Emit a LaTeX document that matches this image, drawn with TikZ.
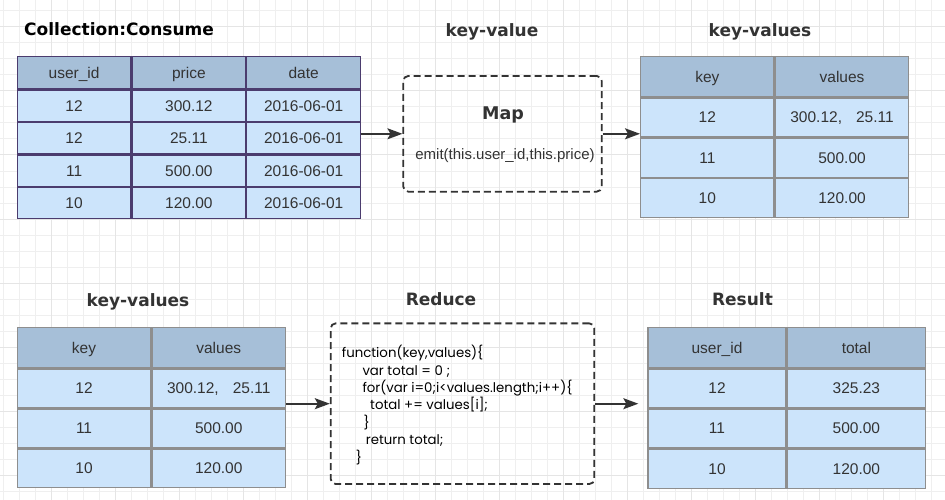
\documentclass[tikz,border=0pt]{standalone}
\usepackage{fontspec}
\setmainfont{DejaVu Sans}
\newfontfamily\cellfont{Liberation Sans}
\newfontfamily\codefont{Poppins}
\usepackage{tikz}
\usetikzlibrary{matrix,arrows.meta}

\definecolor{headblue}{HTML}{A6BFD8}
\definecolor{cellblue}{HTML}{CCE4FB}
\definecolor{edgepurple}{HTML}{4B3C6E}
\definecolor{edgegray}{HTML}{8E8E8E}
\definecolor{inkgray}{HTML}{333333}
\definecolor{gridminor}{HTML}{EFEFEF}
\definecolor{gridmajor}{HTML}{E5E5E5}

\tikzset{
	tabtitle/.style = {anchor=base, inner sep=0, text=inkgray,
		font=\fontsize{17}{20}\selectfont\bfseries},
	datatable/.style n args = {4}{matrix of nodes, anchor=north west,
		inner sep=0, outer sep=0,
		nodes={#1, fill=cellblue, minimum width=#2, minimum height=#4,
			inner sep=1pt, outer sep=0, text depth=0pt, text=inkgray,
			font=\cellfont\fontsize{15.5}{18}\selectfont},
		row 1/.style={nodes={fill=headblue, minimum height=#3}}},
	procbox/.style = {draw=inkgray, line width=1.8pt, dash pattern=on 7pt off 4pt,
		rounded corners=5pt, inner sep=0},
	flow/.style = {draw=inkgray, line width=1.6pt,
		-{Stealth[length=15pt,width=11pt,inset=3pt]}}
}

\begin{document}
\begin{tikzpicture}[x=1pt, y=-1pt]
			\useasboundingbox (0,0) rectangle (945,500);
			% background grid
			\fill[white] (0,0) rectangle (945,500);
			\foreach \gx in {3.3,19.3,...,945}
				\draw[gridminor, line width=1pt] (\gx,0) -- (\gx,500);
			\foreach \gy in {11,27,...,500}
				\draw[gridminor, line width=1pt] (0,\gy) -- (945,\gy);
			\foreach \gx in {51.3,115.3,...,945}
				\draw[gridmajor, line width=1pt] (\gx,0) -- (\gx,500);
			\foreach \gy in {27,91,...,500}
				\draw[gridmajor, line width=1pt] (0,\gy) -- (945,\gy);

			% titles
			\node[tabtitle, anchor=base west, text=black] (consume-title) at (24,36) {Collection:Consume};
			\node[tabtitle] (map-title) at (492,36.5) {key-value};
			\node[tabtitle] (kvmap-title) at (760,36.5) {key-values};
			\node[tabtitle] (kvreduce-title) at (138,306) {key-values};
			\node[tabtitle] (reduce-title) at (441,305) {Reduce};
			\node[tabtitle] (result-title) at (742.5,305) {Result};

			% tables
			\matrix[datatable={draw=edgepurple, line width=1.1pt}{113.7pt}{32.6pt}{31.4pt}]
				(consume) at (16.7,55.7) {
				user\_id & price & date \\
				12 & 300.12 & 2016-06-01 \\
				12 & 25.11 & 2016-06-01 \\
				11 & 500.00 & 2016-06-01 \\
				10 & 120.00 & 2016-06-01 \\
			};
			\matrix[datatable={draw=edgegray, line width=1.4pt}{133.3pt}{40pt}{38.9pt}]
				(kvmap) at (640,56) {
				key & values \\
				12 & 300.12,\hspace{14pt}25.11 \\
				11 & 500.00 \\
				10 & 120.00 \\
			};
			\matrix[datatable={draw=edgegray, line width=1.4pt}{133.3pt}{40pt}{38.7pt}]
				(kvreduce) at (16.7,326.7) {
				key & values \\
				12 & 300.12,\hspace{14pt}25.11 \\
				11 & 500.00 \\
				10 & 120.00 \\
			};
			\matrix[datatable={draw=edgegray, line width=1.4pt}{138pt}{40pt}{38.9pt}]
				(result) at (647.3,326.7) {
				user\_id & total \\
				12 & 325.23 \\
				11 & 500.00 \\
				10 & 120.00 \\
			};

			% map step
			\node[procbox, minimum width=198.4pt, minimum height=115.7pt] (map) at (502.5,133.8) {};
			\node[anchor=base, text=inkgray, font=\fontsize{17.5}{20}\selectfont\bfseries] (map-name) at (503,120) {Map};
			\node[anchor=base, text=inkgray, font=\cellfont\fontsize{15}{18}\selectfont] (map-emit) at (505,160) {emit(this.user\_id,this.price)};

			% reduce step
			\node[procbox, minimum width=263.6pt, minimum height=160.7pt] (reduce) at (462.5,403.7) {};
			\node[anchor=north west, inner sep=0, align=left, text=black,
				font=\codefont\fontsize{13.3}{17.4}\selectfont] (reduce-code) at (341.7,345) {%
				function(key,values)\{\\
				\hspace*{20.6pt}var total = 0 ;\\
				\hspace*{20.6pt}for(var i=0;i<values.length;i++)\{\\
				\hspace*{28.3pt}total += values[i];\\
				\hspace*{21.6pt}\}\\
				\hspace*{24pt}return total;\\
				\hspace*{14pt}\}};

			% flow
			\draw[flow] (consume.east |- map.west) -- (map.west);
			\draw[flow] (map.east) -- (map.east -| kvmap.west);
			\draw[flow] (kvreduce.east |- reduce.west) -- (reduce.west);
			\draw[flow, shorten >=9pt] (reduce.east) -- (reduce.east -| result.west);
		\end{tikzpicture}
\end{document}
